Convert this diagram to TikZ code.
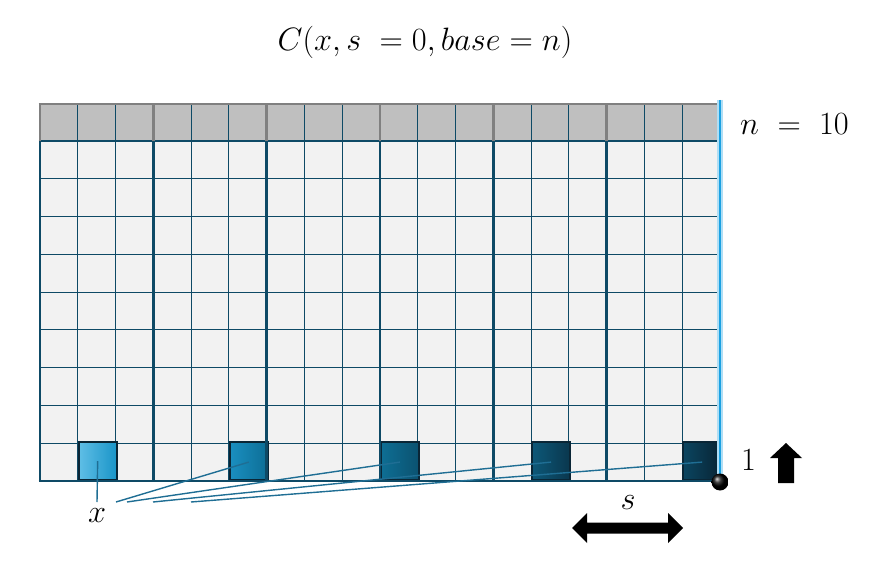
\documentclass[tikz,border=0pt]{standalone}
\usepackage{graphicx}
\usetikzlibrary{calc}
\definecolor{gridblue}{HTML}{0E4A66}
\definecolor{cellfill}{HTML}{F2F2F2}
\definecolor{hdrfill}{HTML}{BFBFBF}
\definecolor{hdrline}{HTML}{808080}
\definecolor{edgeblue}{HTML}{1BA1E2}
\definecolor{linkblue}{HTML}{1F6E94}
\definecolor{sqline}{HTML}{0A2636}
\newcommand{\biglbl}[1]{\scalebox{1.3}{#1}}
\tikzset{
  thin grid/.style={draw=gridblue, line width=0.9pt},
  thick grid/.style={draw=gridblue, line width=2.6pt},
  hdr border/.style={draw=hdrline, line width=2.8pt},
  hsq/.style={draw=sqline, line width=2pt, minimum width=37.8pt, minimum height=37.8pt, inner sep=0pt, anchor=south west},
  link/.style={draw=linkblue, line width=1.4pt},
  lbl/.style={font=\fontsize{24}{28}\selectfont, inner sep=0pt}
}
\begin{document}
\begin{tikzpicture}[x=1pt,y=-1pt]
\useasboundingbox (0,0) rectangle (880,580);
\def\cw{37.778}
% fills
\fill[hdrfill] (40,104) rectangle (720,141);
\fill[cellfill] (40,141) rectangle (720,481);
% thin horizontal lines
\foreach \k in {1,...,8} \draw[thin grid] (40,{141+\k*\cw}) -- (720,{141+\k*\cw});
% thin vertical lines
\foreach \k in {1,...,17} \draw[thin grid] ({40+\k*\cw},104) -- ({40+\k*\cw},481);
% highlighted squares
\node[hsq, left color={rgb,255:red,95;green,190;blue,230}, right color={rgb,255:red,26;green,149;blue,200}] (q1) at ({40+1*\cw},481) {};
\node[hsq, left color={rgb,255:red,26;green,143;blue,192}, right color={rgb,255:red,13;green,110;blue,150}] (q2) at ({40+5*\cw},481) {};
\node[hsq, left color={rgb,255:red,14;green,110;blue,148}, right color={rgb,255:red,11;green,82;blue,112}] (q3) at ({40+9*\cw},481) {};
\node[hsq, left color={rgb,255:red,13;green,88;blue,120}, right color={rgb,255:red,10;green,55;blue,78}] (q4) at ({40+13*\cw},481) {};
\node[hsq, left color={rgb,255:red,11;green,69;blue,96}, right color={rgb,255:red,8;green,36;blue,52}] (q5) at ({40+17*\cw},481) {};
% thick group lines
\foreach \k in {0,3,6,9,12,15} \draw[thick grid] ({40+\k*\cw},141) -- ({40+\k*\cw},481);
\draw[thick grid] (38.7,141) -- (720,141);
\draw[thick grid] (38.7,481) -- (721,481);
% header borders
\foreach \k in {0,3,6,9,12,15} \draw[hdr border] ({40+\k*\cw},104) -- ({40+\k*\cw},141);
\draw[hdr border] (38.6,104) -- (720,104);
% right glowing edge
\draw[edgeblue!35, line width=5.5pt] (720,100) -- (720,483);
\draw[edgeblue, line width=2.8pt] (720,100) -- (720,483);
% corner dot
\shade[ball color=black] (720,482) circle (8.5);
% labels
\node[lbl] (title) at (425,42) {\biglbl{$C(x,s\ = 0, base = n)$}};
\node[lbl, anchor=west] (nlab) at (740,124) {\biglbl{$n\ =\ 10$}};
\node[lbl, anchor=west] (one) at (741,460) {\biglbl{$1$}};
\node[lbl] (xlab) at (97,516) {\biglbl{$x$}};
\node[lbl] (slab) at (628,503) {\biglbl{$s$}};
% connectors
\coordinate (xs0) at (97,502);
\coordinate (xs1) at (116,502);
\coordinate (xs2) at (127,502);
\coordinate (xs3) at (153,502);
\coordinate (xs4) at (191,502);
\draw[link] (xs0) -- (q1.center);
\draw[link] (xs1) -- ($(q2.center)+(0,1)$);
\draw[link] (xs2) -- ($(q3.center)+(0,1)$);
\draw[link] (xs3) -- ($(q4.center)+(0,1)$);
\draw[link] (xs4) -- ($(q5.center)+(0,1)$);
% up arrow
\fill[black] (786,443) -- (802,458) -- (794,458) -- (794,483) -- (778,483) -- (778,458) -- (770,458) -- cycle;
% double arrow
\fill[black] (572,528) -- (587,513) -- (587,522.5) -- (668,522.5) -- (668,513) -- (683,528) -- (668,543) -- (668,533.5) -- (587,533.5) -- (587,543) -- cycle;
\end{tikzpicture}
\end{document}
